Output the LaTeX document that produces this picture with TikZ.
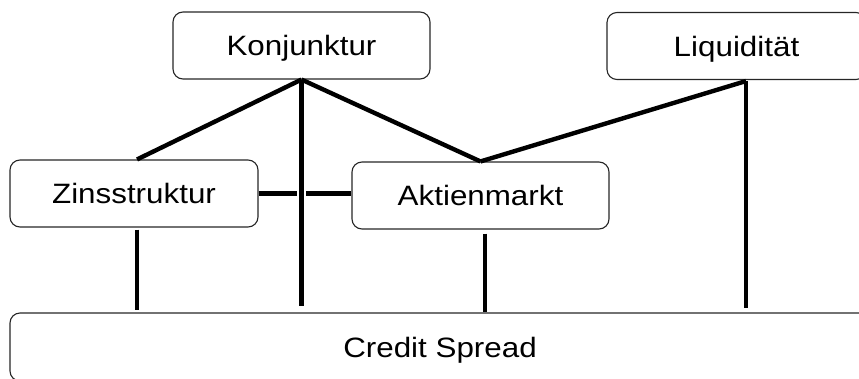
\documentclass[tikz,border=0pt]{standalone}
\usepackage{fontspec}
\setmainfont{Liberation Sans}[FakeStretch=1.12]
\usetikzlibrary{calc}
\tikzset{
  factor/.style={draw=black!85, line width=1.1pt, rounded corners=10pt,
    minimum height=67pt, inner sep=0pt, text height=20.5pt, text depth=0pt,
    font=\fontsize{28}{32}\selectfont},
  link/.style={line width=4.4pt},
  bridge/.style={white, line width=9pt}
}
\newcommand{\factorbox}[5]{\node[factor, minimum width=#4pt] (#1) at (#2,#3) {#5};}

\begin{document}
\begin{tikzpicture}[x=1pt, y=-1pt]
        \useasboundingbox (0,0) rectangle (859,378);
        \clip (0,0) rectangle (859,378);
        % top row
        \factorbox{konj}{301.5}{45.5}{257}{Konjunktur}
        \factorbox{liq}{736.5}{46}{259}{Liquidität}
        % middle row
        \factorbox{zins}{134}{193.5}{248}{Zinsstruktur}
        \factorbox{akt}{480.5}{195.5}{257}{Aktienmarkt}
        % bottom row
        \node[factor, minimum width=860pt, minimum height=68pt] (cs) at (440,347) {Credit Spread};
        % feet of the links
        \coordinate (zinsfoot) at ($(zins.south)+(3,2)$);
        \coordinate (aktfoot) at ($(akt.south)+(4.5,4)$);
        \coordinate (liqfoot) at ($(liq.south)+(9.5,1)$);
        \coordinate (zinshead) at ($(zins.north)+(3,0)$);
        % links from the top row
        \draw[link] (konj.south) -- (zinshead);
        \draw[link] (konj.south) -- (akt.north);
        \draw[link] (liqfoot) -- (akt.north);
        % link in the middle row
        \draw[link] (zins.east) -- (zins.east -| akt.west);
        \draw[bridge] ($(konj.south |- zins.east)+(0,-6)$) -- ($(konj.south |- zins.east)+(0,6)$);
        % links down to the spread
        \draw[link, shorten >=6pt] (konj.south) -- (konj.south |- cs.north);
        \draw[link, shorten >=2pt] (zinsfoot) -- (zinsfoot |- cs.north);
        \draw[link] (aktfoot) -- (aktfoot |- cs.north);
        \draw[link, shorten >=4pt] (liqfoot) -- (liqfoot |- cs.north);
    \end{tikzpicture}
\end{document}
